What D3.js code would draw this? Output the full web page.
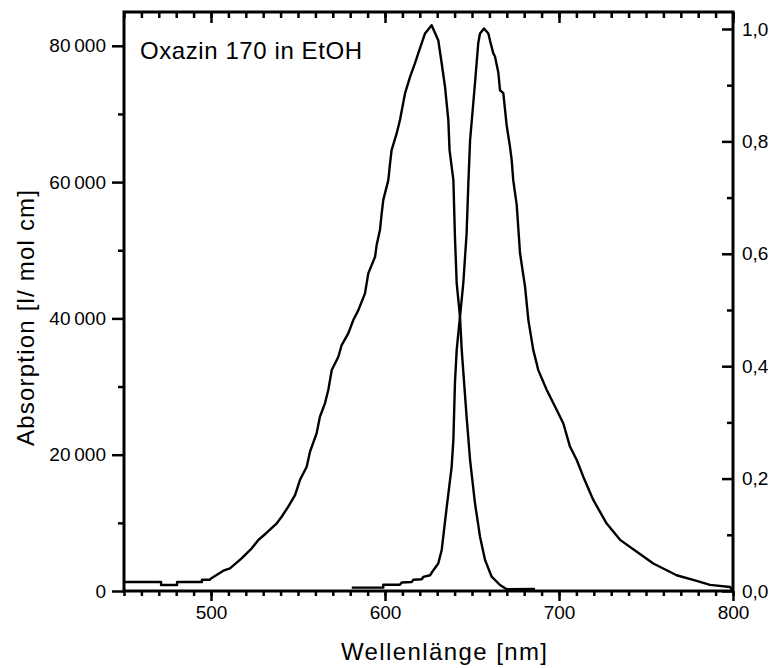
<!DOCTYPE html>
<html>
<head>
<meta charset="utf-8">
<script src="https://cdn.jsdelivr.net/npm/d3@7"></script>
<style>
  html, body { margin: 0; padding: 0; background: #fff; }
  svg { display: block; font-family: "Liberation Sans", Arial, sans-serif; }
</style>
</head>
<body>
<svg id="chart" width="775" height="668"></svg>
<script>
// Oxazin 170 in ethanol: absorption (left axis, l/(mol cm)) and normalised emission (right axis)

// Absorption spectrum: wavelength [nm] and molar extinction
const absWavelength = [450, 471.3, 471.3, 480.5, 480.5, 494.8, 494.8, 499.4, 500, 507.1, 510.9, 517.6, 523.4, 527.2, 532.0, 537.8, 540.6, 544.4, 548.3, 551.1, 555.0, 556.9, 560.7, 562.6, 565.5, 567.4, 569.4, 573.2, 575.1, 578.9, 581.8, 584.7, 588.5, 590.4, 594.3, 595.2, 597.1, 598.1, 599.0, 601.9, 602.9, 603.8, 606.7, 608.6, 611.5, 614.4, 617.2, 619.1, 623.0, 626.8, 630.6, 632.6, 634.5, 636.4, 637.1, 639.3, 640.2, 641.2, 643.1, 644.1, 646.9, 648.9, 651.7, 654.6, 657.5, 661.3, 666.1, 669.9, 686.2];
const absValue = [1320, 1320, 880, 880, 1320, 1320, 1660, 1660, 1830, 2980, 3330, 4800, 6260, 7480, 8550, 9930, 10900, 12370, 14080, 16280, 18240, 20430, 23130, 25570, 27540, 29500, 32420, 34370, 36090, 37800, 39760, 41220, 43670, 46610, 49040, 50760, 52960, 55410, 57360, 60290, 62740, 64690, 67140, 69100, 73010, 75450, 77410, 78880, 81810, 83030, 80830, 77410, 73980, 69100, 64690, 60290, 51980, 45180, 40240, 35350, 25570, 19220, 12910, 7970, 4550, 2100, 880, 250, 290];

// Emission spectrum: wavelength [nm] and normalised intensity
const emWavelength = [580.9, 599.0, 599.0, 608.6, 609.6, 615.3, 616.3, 621.1, 622.0, 625.9, 627.8, 630.6, 631.6, 632.6, 633.5, 635.5, 638.3, 639.3, 640.2, 641.2, 643.1, 645.0, 646.9, 647.9, 648.9, 651.7, 653.6, 654.6, 656.9, 659.4, 660.3, 662.2, 663.2, 665.1, 666.1, 668.0, 669.9, 671.8, 672.8, 673.7, 675.7, 677.6, 680.5, 682.4, 685.2, 688.1, 692.9, 698.7, 702.5, 706.3, 710.2, 714.0, 719.7, 727.4, 735.1, 744.7, 754.2, 767.6, 779.1, 786.8, 798.3, 800];
const emValue = [0.006, 0.006, 0.011, 0.011, 0.015, 0.016, 0.020, 0.021, 0.025, 0.028, 0.037, 0.049, 0.061, 0.073, 0.097, 0.150, 0.221, 0.269, 0.370, 0.429, 0.488, 0.548, 0.636, 0.725, 0.802, 0.903, 0.975, 0.992, 1.001, 0.992, 0.980, 0.957, 0.951, 0.923, 0.891, 0.886, 0.829, 0.791, 0.767, 0.731, 0.687, 0.601, 0.541, 0.482, 0.429, 0.393, 0.358, 0.322, 0.298, 0.257, 0.233, 0.203, 0.162, 0.120, 0.091, 0.070, 0.049, 0.028, 0.018, 0.011, 0.007, 0.0];

// Axis ticks and labels
const xMajorTicks = [500, 600, 700, 800];
const xMinorTicks = d3.range(450, 801, 10);
const absMajorTicks = [0, 20000, 40000, 60000, 80000];
const absMinorTicks = [10000, 30000, 50000, 70000];
const emMajorTicks = [0, 0.2, 0.4, 0.6, 0.8, 1.0];
const emMinorTicks = [0.1, 0.3, 0.5, 0.7, 0.9];

const titleText = "Oxazin 170 in EtOH";
const xTitle = "Wellenlänge [nm]";
const yTitle = "Absorption [l/ mol cm]";

const W = 775, H = 668;
const margin = { top: 12, right: 42, bottom: 77, left: 124 };
const iw = W - margin.left - margin.right;
const ih = H - margin.top - margin.bottom;

const de = d3.formatLocale({ decimal: ",", thousands: "\u2009", grouping: [3], currency: ["", ""] });
const fmtAbs = de.format(",d");
const fmtEm = de.format(".1f");

const x = d3.scaleLinear().domain([450, 800]).range([0, iw]);
const yAbs = d3.scaleLinear().domain([0, 84960]).range([ih, 0]);
const yEm = d3.scaleLinear().domain([0, 1.0302]).range([ih, 0]);

const svg = d3.select("#chart");
const g = svg.append("g").attr("transform", `translate(${margin.left},${margin.top})`);

const tickW = 2.5;
function styleAxis(sel) {
  sel.select(".domain").remove();
  sel.selectAll(".tick line").attr("stroke", "#000").attr("stroke-width", tickW);
  sel.selectAll(".tick text").attr("fill", "#000").attr("font-size", 19)
     .attr("font-family", "'Liberation Sans', Arial, sans-serif");
}

// bottom axis: outward ticks
g.append("g").attr("transform", `translate(0,${ih})`)
  .call(d3.axisBottom(x).tickValues(xMinorTicks).tickSize(5).tickFormat(""))
  .call(styleAxis);
g.append("g").attr("transform", `translate(0,${ih})`)
  .call(d3.axisBottom(x).tickValues(xMajorTicks).tickSize(10).tickPadding(5).tickFormat(d3.format("d")))
  .call(styleAxis);

// top axis: inward ticks, no labels
g.append("g")
  .call(d3.axisBottom(x).tickValues(xMinorTicks).tickSize(6).tickFormat(""))
  .call(styleAxis);
g.append("g")
  .call(d3.axisBottom(x).tickValues(xMajorTicks).tickSize(11).tickFormat(""))
  .call(styleAxis);

// left axis: absorption, outward ticks
g.append("g")
  .call(d3.axisLeft(yAbs).tickValues(absMinorTicks).tickSize(6).tickFormat(""))
  .call(styleAxis);
g.append("g")
  .call(d3.axisLeft(yAbs).tickValues(absMajorTicks).tickSize(12).tickPadding(6).tickFormat(fmtAbs))
  .call(styleAxis);

// right axis: emission, inward ticks with labels outside
g.append("g").attr("transform", `translate(${iw},0)`)
  .call(d3.axisRight(yEm).tickValues(emMinorTicks).tickSizeInner(-6).tickSizeOuter(0).tickFormat(""))
  .call(styleAxis);
g.append("g").attr("transform", `translate(${iw},0)`)
  .call(d3.axisRight(yEm).tickValues(emMajorTicks).tickSizeInner(-11).tickSizeOuter(0).tickPadding(9).tickFormat(fmtEm))
  .call(styleAxis);

// plot frame
g.append("rect")
  .attr("x", 0).attr("y", 0).attr("width", iw).attr("height", ih)
  .attr("fill", "none").attr("stroke", "#000").attr("stroke-width", 3);

// spectra
const absLine = d3.line().x((d, i) => x(absWavelength[i])).y(d => yAbs(d));
const emLine = d3.line().x((d, i) => x(emWavelength[i])).y(d => yEm(d));

g.append("path").datum(absValue)
  .attr("d", absLine)
  .attr("fill", "none").attr("stroke", "#000").attr("stroke-width", 2.4)
  .attr("stroke-linejoin", "round");
g.append("path").datum(emValue)
  .attr("d", emLine)
  .attr("fill", "none").attr("stroke", "#000").attr("stroke-width", 2.4)
  .attr("stroke-linejoin", "round");

// sample label
g.append("text")
  .attr("x", 16).attr("y", 47)
  .attr("font-size", 24).attr("fill", "#000")
  .attr("textLength", 222).attr("lengthAdjust", "spacing")
  .text(titleText);

// axis titles
svg.append("text")
  .attr("x", 444).attr("y", 660)
  .attr("text-anchor", "middle").attr("font-size", 24).attr("fill", "#000")
  .attr("textLength", 206).attr("lengthAdjust", "spacing")
  .text(xTitle);

svg.append("text")
  .attr("transform", `translate(34,${318}) rotate(-90)`)
  .attr("text-anchor", "middle").attr("font-size", 24).attr("fill", "#000")
  .attr("textLength", 256).attr("lengthAdjust", "spacing")
  .text(yTitle);
</script>
</body>
</html>
